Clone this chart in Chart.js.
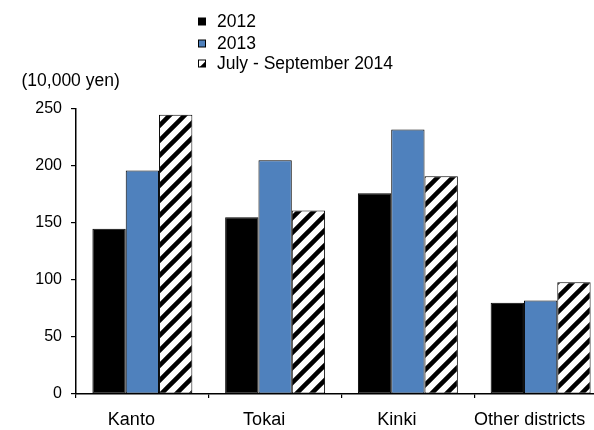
<!DOCTYPE html>
<html>
<head>
<meta charset="utf-8">
<script src="https://cdn.jsdelivr.net/npm/chart.js@4"></script>
<style>
  html, body { margin: 0; padding: 0; overflow: hidden; background: #fff; }
  #wrap { width: 620px; height: 430px; }
</style>
</head>
<body>
<div id="wrap"><canvas id="c" width="620" height="430"></canvas></div>
<script>
// Regional values, in units of 10,000 yen
const categories = ['Kanto', 'Tokai', 'Kinki', 'Other districts'];
const seriesNames = ['2012', '2013', 'July - September 2014'];
const values2012 = [145, 155, 176, 80];
const values2013 = [196, 205, 232, 82];
const valuesJulSep2014 = [245, 161, 191, 98];
const yTickValues = [0, 50, 100, 150, 200, 250];
const unitLabel = '(10,000 yen)';

const FONT = '"Liberation Sans", Arial, Helvetica, sans-serif';
const BLUE = '#4f81bd';

// Diagonal "/" hatch used for the third series
function makeHatch() {
  const s = 15;
  const c = document.createElement('canvas');
  c.width = s; c.height = s;
  const g = c.getContext('2d');
  g.fillStyle = '#fff';
  g.fillRect(0, 0, s, s);
  g.strokeStyle = '#000';
  g.lineWidth = 4.5;
  g.beginPath();
  g.moveTo(-s / 2, s / 2);  g.lineTo(s / 2, -s / 2);
  g.moveTo(0, s);           g.lineTo(s, 0);
  g.moveTo(s / 2, 3 * s / 2); g.lineTo(3 * s / 2, s / 2);
  g.stroke();
  return g.createPattern(c, 'repeat');
}
const hatch = makeHatch();

// Stacked legend above the plot plus the unit caption
const headerPlugin = {
  id: 'header',
  afterDraw(chart) {
    const ctx = chart.ctx;
    ctx.save();
    const rows = [21.5, 43.5, 63.5];
    chart.data.datasets.forEach((ds, i) => {
      const y = rows[i];
      ctx.fillStyle = ds.backgroundColor;
      ctx.fillRect(198.5, y - 3.5, 7, 7);
      ctx.strokeStyle = '#000';
      ctx.lineWidth = 1;
      ctx.strokeRect(198.5, y - 3.5, 7, 7);
      ctx.fillStyle = '#000';
      ctx.font = '17.5px ' + FONT;
      ctx.textBaseline = 'middle';
      ctx.textAlign = 'left';
      ctx.fillText(ds.label, 217, y + 1);
    });
    ctx.font = '17.5px ' + FONT;
    ctx.textBaseline = 'middle';
    ctx.textAlign = 'left';
    ctx.fillStyle = '#000';
    ctx.fillText(unitLabel, 21.5, 81);
    ctx.restore();
  }
};

new Chart(document.getElementById('c'), {
  type: 'bar',
  data: {
    labels: categories,
    datasets: [
      { label: seriesNames[0], data: values2012, backgroundColor: '#000' },
      { label: seriesNames[1], data: values2013, backgroundColor: BLUE },
      { label: seriesNames[2], data: valuesJulSep2014, backgroundColor: hatch }
    ].map(d => Object.assign(d, {
      borderColor: '#000',
      borderWidth: 1,
      borderSkipped: false,
      barPercentage: 1,
      categoryPercentage: 0.753
    }))
  },
  options: {
    responsive: false,
    animation: false,
    devicePixelRatio: 1,
    layout: { padding: { top: 109, right: 13, left: 0, bottom: 0 } },
    plugins: {
      legend: { display: false },
      tooltip: { enabled: false }
    },
    scales: {
      x: {
        grid: { display: true, drawOnChartArea: false, drawTicks: true, tickLength: 4, color: '#000', lineWidth: 1.2 },
        border: { display: true, color: '#000', width: 1.5 },
        ticks: { color: '#000', font: { family: FONT, size: 18 }, padding: 11, labelOffset: -11, maxRotation: 0 },
        afterFit(scale) { scale.height = 36; }
      },
      y: {
        min: 0,
        max: 250,
        afterBuildTicks(scale) { scale.ticks = yTickValues.map(v => ({ value: v })); },
        grid: { display: true, drawOnChartArea: false, drawTicks: true, tickLength: 5, color: '#000', lineWidth: 1.2 },
        border: { display: true, color: '#000', width: 1.5 },
        ticks: { color: '#000', font: { family: FONT, size: 16 }, padding: 9 },
        afterFit(scale) { scale.width = 76; }
      }
    }
  },
  plugins: [headerPlugin]
});
</script>
</body>
</html>
